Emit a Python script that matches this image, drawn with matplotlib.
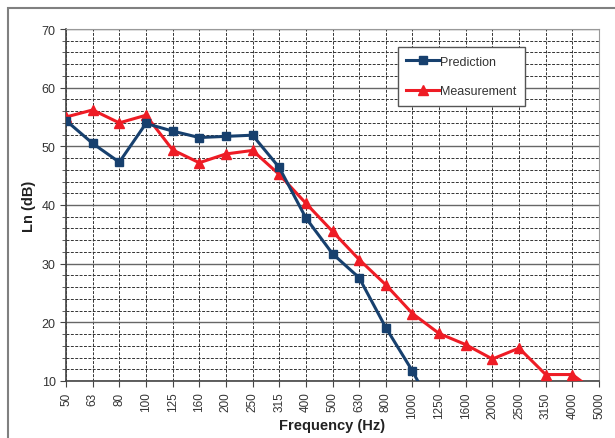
import matplotlib
matplotlib.use("Agg")
import matplotlib.pyplot as plt
from matplotlib.patches import Rectangle
from matplotlib.ticker import MultipleLocator

plt.rcParams['font.family'] = ['Liberation Sans', 'DejaVu Sans']

# Third-octave band centre frequencies (Hz)
freqs = ['50', '63', '80', '100', '125', '160', '200', '250', '315', '400', '500',
         '630', '800', '1000', '1250', '1600', '2000', '2500', '3150', '4000', '5000']

# Ln (dB)
prediction = [54.4, 50.5, 47.3, 53.9, 52.6, 51.5, 51.7, 51.9, 46.4, 37.8, 31.7,
              27.6, 19.1, 11.7, 3.2]
measurement = [55.0, 56.2, 54.0, 55.3, 49.4, 47.2, 48.7, 49.3, 45.2, 40.3, 35.5,
               30.7, 26.4, 21.5, 18.1, 16.2, 13.75, 15.6, 11.1, 11.1, 7.7]

fig = plt.figure(figsize=(6.15, 4.39), dpi=100)
ax = fig.add_axes([66 / 615, 57 / 439, 533 / 615, 352 / 439])

# outer chart frame (runs off the right and bottom edge)
fig.patches.append(Rectangle((8 / 615, -0.1), 1.1, (439 - 9) / 439 + 0.1,
                             transform=fig.transFigure, fill=False,
                             edgecolor='#808080', linewidth=1.5))

x_pred = list(range(len(prediction)))
x_meas = list(range(len(measurement)))

ax.plot(x_pred, prediction, color='#17406E', linewidth=2.2, marker='s',
        markersize=6, markeredgecolor='#17406E', label='Prediction', zorder=4)
ax.plot(x_meas, measurement, color='#EE1C25', linewidth=2.2, marker='^',
        markersize=6.5, label='Measurement', zorder=3)

ax.set_xlim(0, len(freqs) - 1)
ax.set_ylim(10, 70)
ax.set_xticks(range(len(freqs)))
ax.set_xticklabels(freqs, rotation=90, fontsize=8.5, color='#333333')
ax.yaxis.set_major_locator(MultipleLocator(10))
ax.yaxis.set_minor_locator(MultipleLocator(2))
ax.tick_params(axis='y', which='major', labelsize=9, labelcolor='#333333', length=4, color='#444444')
ax.tick_params(axis='y', which='minor', length=3, color='#444444')
ax.tick_params(axis='x', length=4, color='#444444')

# grid: solid major, dashed minor / vertical
ax.grid(True, axis='y', which='major', color='#666666', linewidth=1.0, linestyle='-', zorder=1)
ax.grid(True, axis='y', which='minor', color='#333333', linewidth=0.7, linestyle=(0, (3, 1.5)), zorder=1)
ax.grid(True, axis='x', which='major', color='#333333', linewidth=0.7, linestyle=(0, (3, 1.5)), zorder=1)
ax.set_axisbelow(True)

for side in ['top', 'right']:
    ax.spines[side].set_color('#999999')
for side in ['left', 'bottom']:
    ax.spines[side].set_color('#444444')
    ax.spines[side].set_linewidth(1.2)

ax.set_xlabel('Frequency (Hz)', fontsize=10.5, fontweight='bold', color='#222222', labelpad=0)
ax.set_ylabel('Ln (dB)', fontsize=10.5, fontweight='bold', color='#222222', labelpad=4)

leg = ax.legend(loc='upper left', bbox_to_anchor=(0.622, 0.949), fontsize=9,
                frameon=True, fancybox=False, edgecolor='#555555', framealpha=1,
                labelspacing=1.4, handlelength=2.6, handletextpad=0.1,
                borderpad=0.7, borderaxespad=0)
leg.get_frame().set_linewidth(1.0)
for t in leg.get_texts():
    t.set_color('#333333')

fig.savefig('out.png', dpi=100)
